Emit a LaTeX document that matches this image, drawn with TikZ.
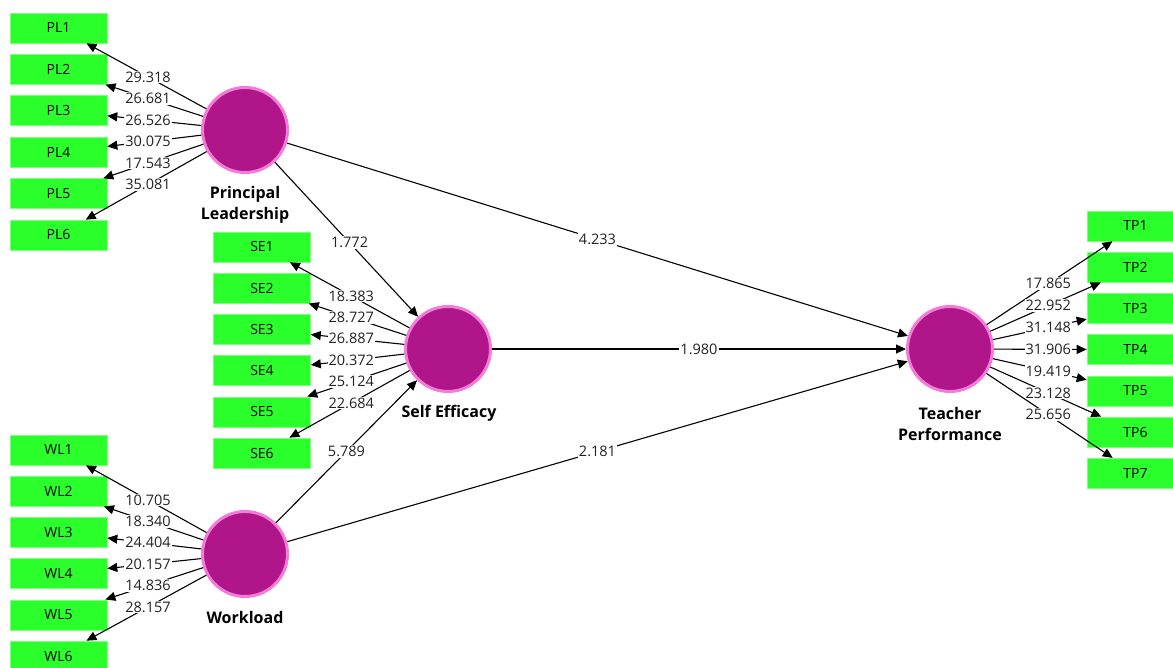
\documentclass[tikz,border=0pt]{standalone}
\usepackage{fontspec}
\setmainfont{Open Sans}
\usetikzlibrary{arrows.meta,calc}
\definecolor{lvfill}{HTML}{B0168A}
\definecolor{lvedge}{HTML}{F27CD8}
\definecolor{indfill}{HTML}{2BFF2B}
\definecolor{txt}{HTML}{222222}
\tikzset{
  lv/.style={circle,fill=lvfill,draw=lvedge,line width=3pt,minimum size=85pt,inner sep=0pt},
  ind/.style={rectangle,fill=indfill,draw=indfill!60!white,line width=0.6pt,minimum width=97pt,minimum height=30pt,inner sep=0pt,font=\fontsize{14}{16}\selectfont,text=black},
  arr/.style={-{Triangle[length=10pt,width=9pt]},line width=1.1pt,draw=black},
  lab/.style={fill=white,inner sep=1pt,font=\fontsize{14.5}{16}\selectfont,text=txt},
  lvlab/.style={font=\bfseries\fontsize{16}{21}\selectfont,align=center,text=black}
}
\begin{document}
\begin{tikzpicture}[x=1pt,y=-1pt]
\useasboundingbox (0,0) rectangle (1173,668);
\clip (0,0) rectangle (1173,668);
% latent variables
\node[lv] (PL) at (245,130) {};
\node[lv] (SE) at (448,349) {};
\node[lv] (WL) at (245,554) {};
\node[lv] (TP) at (950,349) {};
\node[lvlab] (PLt) at (245,205) {Principal\\Leadership};
\node[lvlab] (SEt) at (449,413) {Self Efficacy};
\node[lvlab] (WLt) at (245,617) {Workload};
\node[lvlab] (TPt) at (950,424) {Teacher\\Performance};
% indicators
\foreach \i in {1,...,6}{
  \pgfmathsetmacro{\yy}{28+41.4*(\i-1)}
  \node[ind] (PL\i) at (58.5,\yy) {PL\i};
  \pgfmathsetmacro{\yy}{247+41.2*(\i-1)}
  \node[ind] (SE\i) at (262,\yy) {SE\i};
  \pgfmathsetmacro{\yy}{450+41.2*(\i-1)}
  \node[ind] (WL\i) at (58.5,\yy) {WL\i};
}
\foreach \i in {1,...,7}{
  \pgfmathsetmacro{\yy}{226+41.2*(\i-1)}
  \node[ind] (TP\i) at (1135.5,\yy) {TP\i};
}
% outer loadings
\foreach \i/\v in {1/29.318,2/26.681,3/26.526,4/30.075,5/17.543,6/35.081}{
  \draw[arr] (PL) -- (PL\i);
  \node[lab] (PLl\i) at ($(PL)!0.52!(PL\i)$) {\v};
}
\foreach \i/\v in {1/18.383,2/28.727,3/26.887,4/20.372,5/25.124,6/22.684}{
  \draw[arr] (SE) -- (SE\i);
  \node[lab] (SEl\i) at ($(SE)!0.52!(SE\i)$) {\v};
}
\foreach \i/\v in {1/10.705,2/18.340,3/24.404,4/20.157,5/14.836,6/28.157}{
  \draw[arr] (WL) -- (WL\i);
  \node[lab] (WLl\i) at ($(WL)!0.52!(WL\i)$) {\v};
}
\foreach \i/\v in {1/17.865,2/22.952,3/31.148,4/31.906,5/19.419,6/23.128,7/25.656}{
  \draw[arr] (TP) -- (TP\i);
  \node[lab] (TPl\i) at ($(TP)!0.53!(TP\i)$) {\v};
}
% structural paths
\draw[arr] (PL) -- (SE);
\node[lab] (l1) at ($(PL)!0.515!(SE)$) {1.772};
\draw[arr] (PL) -- (TP);
\node[lab] (l2) at ($(PL)!0.5!(TP)$) {4.233};
\draw[arr] (SE) -- (TP);
\node[lab] (l3) at ($(SE)!0.5!(TP)$) {1.980};
\draw[arr] (WL) -- (SE);
\node[lab] (l4) at ($(WL)!0.5!(SE)$) {5.789};
\draw[arr] (WL) -- (TP);
\node[lab] (l5) at ($(WL)!0.5!(TP)$) {2.181};
\end{tikzpicture}
\end{document}
